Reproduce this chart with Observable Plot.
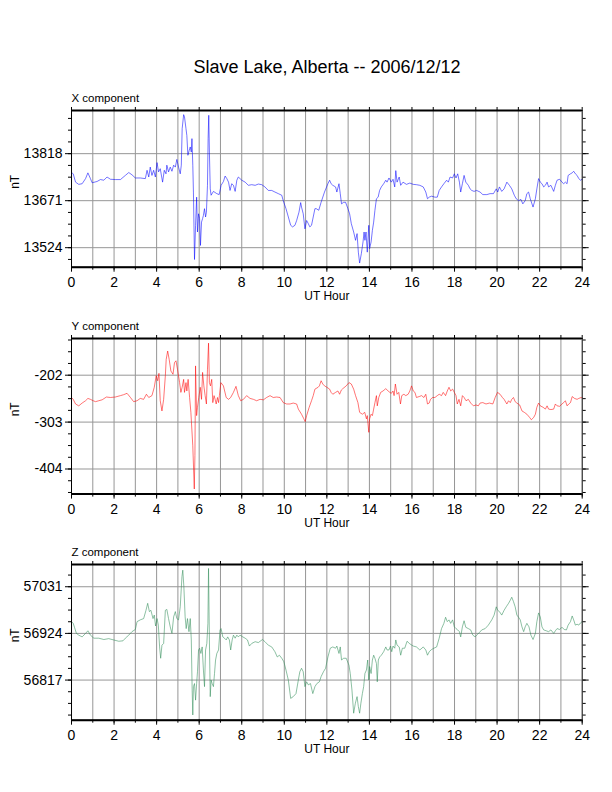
<!DOCTYPE html>
<html>
<head>
<meta charset="utf-8">
<script src="https://cdn.jsdelivr.net/npm/d3@7"></script>
<script src="https://cdn.jsdelivr.net/npm/@observablehq/plot@0.6"></script>
<style>
  body { margin: 0; background: white; }
  #page { position: relative; width: 612px; height: 792px; background: white; font-family: "Liberation Sans", Arial, Helvetica, sans-serif; }
  #title { position: absolute; top: 57px; left: 0; width: 654px; text-align: center; font-size: 18px; line-height: 20px; color: black; }
  .panel { position: absolute; left: 0; }
</style>
</head>
<body>
<div id="page">
  <div id="title">Slave Lake, Alberta -- 2006/12/12</div>
</div>
<script>
const title = "Slave Lake, Alberta -- 2006/12/12";
const xLabelTicks = [0, 2, 4, 6, 8, 10, 12, 14, 16, 18, 20, 22, 24];
const hourTicks = [0,1,2,3,4,5,6,7,8,9,10,11,12,13,14,15,16,17,18,19,20,21,22,23,24];

const xTicks = [13524, 13671, 13818];
const yTicks = [-404, -303, -202];
const zTicks = [56817, 56924, 57031];

// [UT hour, nT]
const xComp = [[0,13759],[0.08,13755],[0.19,13729],[0.34,13722],[0.5,13724],[0.66,13740],[0.77,13758],[0.89,13740],[0.97,13727],[1.2,13731],[1.36,13737],[1.52,13735],[1.67,13745],[1.83,13738],[2.06,13737],[2.3,13737],[2.53,13750],[2.69,13759],[2.84,13752],[3.0,13742],[3.23,13742],[3.47,13740],[3.55,13766],[3.63,13745],[3.7,13776],[3.78,13750],[3.86,13766],[3.94,13745],[4.02,13790],[4.09,13761],[4.17,13771],[4.28,13729],[4.36,13766],[4.44,13755],[4.48,13782],[4.56,13761],[4.64,13776],[4.72,13763],[4.8,13782],[4.88,13776],[4.95,13800],[5.03,13776],[5.11,13755],[5.16,13782],[5.2,13896],[5.27,13940],[5.31,13933],[5.38,13896],[5.42,13875],[5.47,13813],[5.53,13828],[5.58,13839],[5.63,13823],[5.66,13865],[5.7,13782],[5.73,13698],[5.78,13487],[5.83,13594],[5.88,13682],[5.92,13573],[5.97,13630],[6.02,13615],[6.06,13531],[6.11,13604],[6.16,13615],[6.2,13625],[6.25,13646],[6.3,13620],[6.34,13635],[6.39,13719],[6.42,13865],[6.45,13938],[6.48,13823],[6.52,13708],[6.56,13688],[6.67,13700],[6.83,13693],[6.94,13690],[7.03,13719],[7.14,13731],[7.22,13748],[7.3,13740],[7.38,13729],[7.45,13703],[7.53,13724],[7.61,13719],[7.69,13700],[7.77,13735],[7.84,13745],[7.92,13740],[8.0,13735],[8.16,13729],[8.31,13719],[8.47,13721],[8.63,13719],[8.78,13723],[8.94,13721],[9.09,13714],[9.25,13703],[9.41,13703],[9.56,13698],[9.72,13693],[9.88,13688],[9.95,13671],[10.08,13646],[10.19,13620],[10.3,13594],[10.39,13589],[10.5,13594],[10.58,13609],[10.69,13635],[10.77,13665],[10.81,13651],[10.89,13630],[10.97,13583],[11.05,13609],[11.13,13599],[11.2,13589],[11.28,13594],[11.36,13620],[11.44,13646],[11.5,13646],[11.62,13641],[11.73,13666],[11.89,13698],[12.05,13724],[12.13,13735],[12.2,13724],[12.28,13719],[12.41,13714],[12.47,13698],[12.57,13724],[12.63,13693],[12.69,13661],[12.79,13666],[12.88,13666],[12.99,13646],[13.07,13630],[13.15,13599],[13.26,13573],[13.35,13547],[13.42,13568],[13.48,13510],[13.54,13476],[13.62,13505],[13.7,13542],[13.75,13573],[13.79,13547],[13.84,13573],[13.9,13510],[13.97,13594],[14.01,13521],[14.08,13542],[14.14,13578],[14.2,13604],[14.26,13641],[14.33,13677],[14.41,13682],[14.48,13703],[14.56,13714],[14.67,13724],[14.77,13735],[14.83,13729],[14.92,13742],[15.03,13729],[15.11,13738],[15.19,13714],[15.24,13765],[15.3,13729],[15.4,13745],[15.47,13719],[15.58,13729],[15.74,13722],[15.9,13726],[16.06,13722],[16.21,13721],[16.37,13719],[16.53,13714],[16.65,13698],[16.73,13677],[16.81,13682],[16.92,13685],[17.08,13682],[17.19,13682],[17.28,13703],[17.39,13714],[17.5,13724],[17.63,13735],[17.71,13729],[17.79,13745],[17.91,13742],[17.99,13755],[18.07,13742],[18.15,13755],[18.23,13729],[18.29,13698],[18.37,13724],[18.45,13750],[18.53,13729],[18.65,13719],[18.73,13708],[18.81,13703],[18.92,13700],[19.04,13703],[19.2,13698],[19.33,13690],[19.52,13690],[19.67,13693],[19.83,13693],[19.96,13708],[20.03,13698],[20.11,13714],[20.22,13700],[20.33,13708],[20.46,13729],[20.58,13719],[20.69,13708],[20.81,13688],[20.9,13677],[21.01,13671],[21.12,13675],[21.21,13661],[21.32,13671],[21.4,13693],[21.48,13698],[21.56,13677],[21.69,13651],[21.8,13677],[21.87,13708],[21.95,13740],[22.03,13729],[22.11,13724],[22.19,13714],[22.27,13719],[22.35,13729],[22.42,13714],[22.53,13719],[22.66,13700],[22.74,13719],[22.82,13735],[22.94,13738],[23.05,13729],[23.13,13724],[23.21,13729],[23.29,13724],[23.34,13750],[23.45,13755],[23.53,13758],[23.6,13763],[23.68,13755],[23.76,13750],[23.84,13740],[23.92,13735],[24.0,13738]];

const yComp = [[0,-250],[0.08,-254],[0.19,-264],[0.34,-268],[0.5,-262],[0.66,-257],[0.77,-252],[0.89,-254],[1.02,-257],[1.13,-259],[1.28,-257],[1.44,-255],[1.64,-249],[1.83,-250],[2.06,-249],[2.3,-246],[2.45,-244],[2.61,-241],[2.77,-250],[2.92,-259],[3.08,-257],[3.23,-252],[3.39,-254],[3.52,-243],[3.63,-250],[3.78,-246],[3.89,-228],[3.98,-203],[4.05,-214],[4.11,-198],[4.17,-257],[4.25,-279],[4.33,-254],[4.41,-203],[4.45,-168],[4.52,-150],[4.59,-168],[4.67,-193],[4.77,-200],[4.84,-175],[4.91,-171],[4.98,-189],[5.08,-218],[5.14,-239],[5.2,-228],[5.27,-211],[5.31,-239],[5.38,-218],[5.42,-236],[5.48,-211],[5.55,-250],[5.61,-282],[5.66,-322],[5.7,-354],[5.77,-447],[5.8,-375],[5.83,-182],[5.88,-289],[5.92,-271],[5.98,-250],[6.05,-228],[6.11,-254],[6.16,-196],[6.22,-225],[6.28,-246],[6.34,-264],[6.39,-189],[6.44,-133],[6.48,-218],[6.53,-225],[6.59,-211],[6.64,-261],[6.7,-246],[6.75,-254],[6.8,-264],[6.86,-250],[6.91,-261],[6.95,-246],[7.02,-218],[7.14,-225],[7.27,-250],[7.38,-254],[7.48,-250],[7.61,-239],[7.73,-226],[7.84,-246],[7.95,-257],[8.08,-254],[8.23,-246],[8.39,-252],[8.55,-254],[8.7,-257],[8.86,-254],[9.02,-255],[9.17,-250],[9.33,-246],[9.48,-250],[9.64,-249],[9.8,-250],[9.95,-261],[10.11,-264],[10.27,-264],[10.42,-262],[10.58,-264],[10.66,-275],[10.81,-286],[10.92,-296],[10.98,-302],[11.05,-289],[11.17,-271],[11.28,-257],[11.36,-246],[11.44,-232],[11.59,-228],[11.65,-225],[11.73,-214],[11.81,-221],[11.89,-225],[12.0,-228],[12.13,-232],[12.2,-239],[12.28,-243],[12.41,-239],[12.52,-236],[12.6,-243],[12.68,-234],[12.75,-231],[12.91,-225],[13.04,-218],[13.15,-221],[13.26,-232],[13.35,-246],[13.46,-261],[13.54,-282],[13.67,-286],[13.78,-282],[13.86,-296],[13.9,-289],[13.97,-325],[14.01,-296],[14.08,-286],[14.14,-289],[14.2,-275],[14.26,-261],[14.33,-246],[14.37,-268],[14.44,-250],[14.53,-239],[14.64,-236],[14.77,-231],[14.88,-236],[14.96,-239],[15.03,-241],[15.11,-236],[15.16,-246],[15.22,-221],[15.3,-243],[15.38,-239],[15.46,-264],[15.52,-246],[15.62,-243],[15.71,-246],[15.82,-243],[15.9,-236],[15.98,-225],[16.06,-236],[16.14,-239],[16.21,-250],[16.34,-248],[16.45,-246],[16.56,-250],[16.65,-243],[16.73,-264],[16.81,-262],[16.87,-254],[16.97,-250],[17.08,-250],[17.19,-246],[17.28,-243],[17.39,-246],[17.47,-239],[17.58,-246],[17.66,-236],[17.74,-228],[17.82,-236],[17.91,-232],[17.99,-239],[18.07,-246],[18.13,-264],[18.21,-254],[18.29,-268],[18.37,-246],[18.45,-250],[18.54,-257],[18.65,-254],[18.76,-262],[18.89,-268],[19.01,-266],[19.12,-268],[19.2,-262],[19.33,-261],[19.48,-264],[19.64,-262],[19.8,-264],[19.91,-250],[20.02,-239],[20.14,-243],[20.25,-250],[20.33,-254],[20.46,-264],[20.54,-257],[20.62,-261],[20.69,-254],[20.77,-250],[20.85,-259],[20.93,-262],[21.06,-266],[21.17,-279],[21.28,-282],[21.4,-286],[21.53,-293],[21.61,-298],[21.72,-293],[21.8,-286],[21.87,-271],[21.95,-262],[22.03,-268],[22.16,-271],[22.27,-275],[22.35,-268],[22.42,-275],[22.53,-276],[22.66,-275],[22.74,-264],[22.82,-268],[22.94,-269],[23.05,-264],[23.13,-261],[23.21,-257],[23.29,-268],[23.37,-264],[23.45,-261],[23.53,-248],[23.64,-252],[23.76,-254],[23.84,-252],[23.95,-250],[24.0,-251]];

const zComp = [[0,56951],[0.08,56947],[0.14,56938],[0.23,56924],[0.34,56920],[0.5,56916],[0.66,56924],[0.77,56930],[0.89,56920],[1.05,56913],[1.28,56913],[1.52,56910],[1.75,56912],[1.98,56909],[2.22,56906],[2.42,56907],[2.53,56913],[2.69,56920],[2.84,56928],[3.0,56933],[3.08,56951],[3.23,56955],[3.39,56958],[3.5,56977],[3.58,56993],[3.66,56974],[3.73,56977],[3.83,56958],[3.89,56966],[3.95,56941],[4.02,56958],[4.08,56943],[4.14,56893],[4.19,56867],[4.25,56897],[4.33,56901],[4.41,56977],[4.48,56979],[4.56,56958],[4.64,56939],[4.72,56924],[4.8,56962],[4.88,56974],[4.95,56958],[5.03,56955],[5.11,56985],[5.19,57054],[5.23,57069],[5.28,57031],[5.34,56962],[5.39,56935],[5.45,56958],[5.52,56928],[5.58,56958],[5.63,56909],[5.67,56794],[5.7,56737],[5.73,56802],[5.78,56809],[5.83,56771],[5.88,56809],[5.92,56836],[5.97,56886],[6.02,56890],[6.08,56878],[6.14,56893],[6.2,56840],[6.25,56802],[6.3,56886],[6.36,56901],[6.41,56947],[6.44,57073],[6.48,56909],[6.52,56779],[6.56,56817],[6.61,56809],[6.67,56802],[6.72,56832],[6.77,56863],[6.83,56878],[6.91,56886],[6.98,56932],[7.03,56935],[7.11,56916],[7.19,56913],[7.27,56909],[7.34,56916],[7.42,56909],[7.48,56886],[7.55,56909],[7.61,56920],[7.69,56913],[7.77,56920],[7.84,56916],[7.92,56920],[8.05,56916],[8.16,56913],[8.27,56909],[8.36,56895],[8.47,56901],[8.63,56905],[8.78,56903],[8.98,56910],[9.09,56905],[9.25,56897],[9.41,56893],[9.56,56882],[9.67,56870],[9.77,56874],[9.88,56867],[9.98,56859],[10.08,56840],[10.19,56817],[10.3,56775],[10.42,56779],[10.55,56786],[10.66,56817],[10.73,56836],[10.81,56844],[10.89,56836],[10.97,56802],[11.05,56813],[11.13,56806],[11.23,56809],[11.34,56786],[11.44,56802],[11.53,56809],[11.65,56813],[11.73,56825],[11.84,56836],[11.94,56844],[12.05,56870],[12.16,56890],[12.28,56893],[12.41,56890],[12.47,56895],[12.57,56878],[12.63,56893],[12.69,56863],[12.79,56867],[12.91,56867],[13.04,56851],[13.1,56832],[13.18,56794],[13.26,56741],[13.34,56764],[13.42,56779],[13.48,56756],[13.54,56741],[13.6,56764],[13.67,56786],[13.73,56802],[13.79,56832],[13.86,56840],[13.92,56863],[13.97,56817],[14.01,56848],[14.08,56832],[14.14,56863],[14.2,56874],[14.26,56867],[14.33,56855],[14.37,56813],[14.42,56863],[14.48,56870],[14.56,56874],[14.67,56882],[14.77,56893],[14.83,56886],[14.92,56886],[14.99,56895],[15.05,56882],[15.11,56895],[15.19,56890],[15.24,56909],[15.3,56897],[15.4,56893],[15.47,56874],[15.55,56890],[15.66,56890],[15.77,56906],[15.9,56900],[16.06,56895],[16.21,56893],[16.37,56886],[16.53,56893],[16.65,56886],[16.73,56874],[16.81,56882],[16.92,56887],[17.03,56890],[17.16,56893],[17.28,56913],[17.39,56935],[17.5,56947],[17.58,56961],[17.66,56951],[17.74,56955],[17.82,56947],[17.91,56955],[17.99,56939],[18.07,56935],[18.15,56932],[18.23,56928],[18.29,56916],[18.37,56939],[18.45,56953],[18.53,56938],[18.65,56935],[18.76,56932],[18.86,56920],[18.97,56916],[19.04,56920],[19.17,56926],[19.28,56932],[19.44,56935],[19.59,56943],[19.75,56955],[19.86,56966],[19.96,56985],[20.03,56977],[20.11,56974],[20.22,56966],[20.33,56977],[20.43,56985],[20.54,56993],[20.62,57000],[20.69,57007],[20.77,56997],[20.85,56985],[20.93,56966],[21.01,56961],[21.09,56955],[21.17,56939],[21.25,56928],[21.32,56939],[21.4,56947],[21.5,56939],[21.59,56920],[21.69,56910],[21.8,56924],[21.87,56951],[21.95,56971],[22.03,56962],[22.11,56939],[22.19,56932],[22.31,56930],[22.42,56928],[22.53,56932],[22.66,56924],[22.74,56930],[22.82,56935],[22.94,56933],[23.05,56938],[23.16,56933],[23.26,56932],[23.34,56943],[23.45,56951],[23.53,56964],[23.6,56955],[23.68,56943],[23.76,56945],[23.84,56943],[23.92,56948],[24.0,56951]];

const panels = [
  {label: "X component", data: xComp, color: "#0000ff", domain: [13463, 13953], ticks: xTicks, frameTop: 110, frameBottom: 266.7},
  {label: "Y component", data: yComp, color: "#ff0000", domain: [-458, -123], ticks: yTicks, frameTop: 337.7, frameBottom: 493.3},
  {label: "Z component", data: zComp, color: "#2e8b57", domain: [56725, 57082], ticks: zTicks, frameTop: 564.3, frameBottom: 720}
];

const page = document.getElementById("page");
const font = "'Liberation Sans', Arial, Helvetica, sans-serif";
const MT = 30, MB = 45;
const plain = d => String(d);

for (const p of panels) {
  const step = p.ticks[1] - p.ticks[0];
  const minor = d3.range(p.ticks[0] - 8 * step / 4, p.domain[1], step / 4)
    .filter(v => v >= p.domain[0] && v <= p.domain[1]);
  const grid = hourTicks.filter(h => h > 0 && h < 24);
  const fh = p.frameBottom - p.frameTop;
  const chart = Plot.plot({
    width: 612,
    height: MT + fh + MB,
    marginTop: MT, marginBottom: MB, marginLeft: 71, marginRight: 30.3,
    x: {domain: [0, 24]},
    y: {domain: p.domain},
    style: {fontFamily: font, fontSize: "14px", background: "white", color: "black"},
    marks: [
      Plot.gridX(grid, {stroke: "#969696", strokeOpacity: 1, strokeWidth: 1}),
      Plot.gridY(p.ticks, {stroke: "#969696", strokeOpacity: 1, strokeWidth: 1}),
      Plot.line(p.data, {x: d => d[0], y: d => d[1], stroke: p.color, strokeWidth: 0.55}),
      Plot.frame({stroke: "black", strokeWidth: 1}),
      Plot.ruleY([p.domain[1]], {stroke: "black", strokeWidth: 2}),
      Plot.ruleY([p.domain[0]], {stroke: "black", strokeWidth: 2}),
      Plot.axisY(p.ticks, {anchor: "left", tickSize: 6, tickPadding: 3, label: null, fontSize: 14, tickFormat: plain}),
      Plot.axisY(minor, {anchor: "left", tickSize: 3, tickFormat: () => "", label: null}),
      Plot.axisY(p.ticks, {anchor: "right", tickSize: 6, tickFormat: () => "", label: null}),
      Plot.axisY(minor, {anchor: "right", tickSize: 3, tickFormat: () => "", label: null}),
      Plot.axisX(xLabelTicks, {anchor: "bottom", tickSize: 5, tickPadding: 5, label: null, fontSize: 14, tickFormat: plain}),
      Plot.axisX(hourTicks, {anchor: "bottom", tickSize: 3, tickFormat: () => "", label: null}),
      Plot.axisX(hourTicks, {anchor: "top", tickSize: 4, tickFormat: () => "", label: null}),
      Plot.text([p.label], {frameAnchor: "top-left", dy: -8, lineAnchor: "bottom", textAnchor: "start", fontSize: 11.5}),
      Plot.text(["UT Hour"], {frameAnchor: "bottom", dy: 29, lineAnchor: "middle", fontSize: 12}),
      Plot.text(["nT"], {frameAnchor: "left", dx: -56, rotate: -90, lineAnchor: "middle", fontSize: 12})
    ]
  });
  chart.classList.add("panel");
  chart.style.top = (p.frameTop - MT) + "px";
  page.appendChild(chart);
}
</script>
</body>
</html>
